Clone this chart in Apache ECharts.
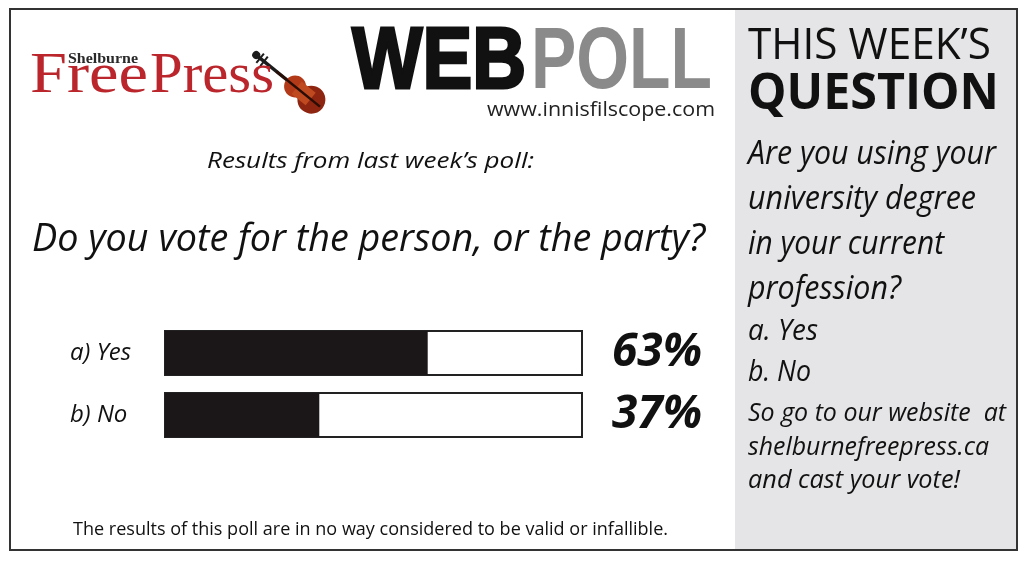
<!DOCTYPE html>
<html><head><meta charset="utf-8">
<script src="https://cdn.jsdelivr.net/npm/echarts@6/dist/echarts.min.js"></script>
<style>html,body{margin:0;padding:0;background:#fff}#c{width:1022px;height:562px}</style>
</head><body><div id="c"></div>
<script>
const categories = ['a) Yes', 'b) No'];
const values = [63, 37];
const pctLabels = values.map(v => v + '%');
const question = 'Do you vote for the person, or the party?';
const subtitle = 'Results from last week\u2019s poll:';
const footer = 'The results of this poll are in no way considered to be valid or infallible.';
const nextQuestion = ['Are you using your', 'university degree', 'in your current', 'profession?'];
const nextOptions = ['a. Yes', 'b. No'];
const callToAction = ['So go to our website  at', 'shelburnefreepress.ca', 'and cast your vote!'];

const SANS = '"Open Sans", "Noto Sans", sans-serif';
const SERIF = '"Liberation Serif", serif';
const HEAVY = '"Liberation Sans", sans-serif';
const cv = document.createElement('canvas').getContext('2d');
function txt(text, x, y, opt) {
  const style = opt.style || 'normal', weight = opt.weight || 'normal', family = opt.family || SANS;
  const font = style + ' ' + weight + ' ' + opt.size + 'px ' + family;
  cv.font = font;
  const w = cv.measureText(text).width;
  const sx = opt.width ? opt.width / w : 1;
  return { type: 'text', z: opt.z || 10, x: x, y: y, scaleX: sx, originX: 0, originY: 0,
    style: { x: 0, y: 0, text: text, font: font,
      fill: opt.fill || '#111', textAlign: opt.align || 'left', textVerticalAlign: 'middle',
      stroke: opt.stroke || null, lineWidth: opt.lw || 0 } };
}

const chart = echarts.init(document.getElementById('c'), null, { renderer: 'canvas' });
const graphics = [
  { type: 'rect', z: 0, shape: { x: 735, y: 9, width: 282, height: 541 }, style: { fill: '#e5e5e7' } },
  { type: 'rect', z: 1, shape: { x: 10, y: 9, width: 1007, height: 541 }, style: { fill: 'none', stroke: '#333', lineWidth: 2 } },
  // logo
  txt('Free', 30, 77, { family: SERIF, size: 58, width: 118, fill: '#bb262c' }),
  txt('Press', 150, 77, { family: SERIF, size: 58, width: 124, fill: '#bb262c' }),
  txt('Shelburne', 68, 59, { family: SERIF, weight: 'bold', size: 15, width: 70, fill: '#2a2a2a', z: 11 }),
  // violin
  { type: 'group', x: 292, y: 84, rotation: -0.68, z: 12, children: [
    { type: 'line', shape: { x1: -44, y1: 0, x2: 0, y2: 0 }, style: { stroke: '#1c1c1c', lineWidth: 3.5 } },
    { type: 'circle', shape: { cx: -46, cy: 0, r: 4 }, style: { fill: '#1c1c1c' } },
    { type: 'line', shape: { x1: -41, y1: -6, x2: -41, y2: 6 }, style: { stroke: '#1c1c1c', lineWidth: 2 } },
    { type: 'line', shape: { x1: -36, y1: -6, x2: -36, y2: 6 }, style: { stroke: '#1c1c1c', lineWidth: 2 } },
    { type: 'ellipse', shape: { cx: 4, cy: 0, rx: 11, ry: 11 }, style: { fill: '#b23a18' } },
    { type: 'ellipse', shape: { cx: 25, cy: 0, rx: 14, ry: 14 }, style: { fill: '#8e2510' } },
    { type: 'rect', shape: { x: 6, y: -8, width: 18, height: 16 }, style: { fill: '#c04a20' } },
    { type: 'line', shape: { x1: -20, y1: 0, x2: 36, y2: 0 }, style: { stroke: '#2a0d05', lineWidth: 2.5 } }
  ]},
  // WEBPOLL
  txt('WEB', 352, 64, { family: HEAVY, weight: 'bold', size: 88, width: 174, fill: '#111', stroke: '#111', lw: 3 }),
  txt('POLL', 531, 64, { family: HEAVY, weight: 'bold', size: 88, width: 181, fill: '#8a8a8a' }),
  txt('www.innisfilscope.com', 487, 110, { size: 20, width: 228, fill: '#222' }),
  txt(subtitle, 207, 162, { style: 'italic', size: 22, width: 327 }),
  txt(question, 32, 240, { style: 'italic', size: 39, width: 673 }),
  txt(footer, 73, 530, { size: 18, width: 595 }),
  // right panel
  txt('THIS WEEK\u2019S', 748, 46, { size: 44, width: 243 }),
  txt('QUESTION', 748, 95, { weight: 'bold', size: 50, width: 251 }),
];
const qWidths = [248, 228, 196, 153];
const qY = [155, 200, 245, 290];
nextQuestion.forEach((t, i) => graphics.push(txt(t, 748, qY[i], { style: 'italic', size: 33, width: qWidths[i] })));
const oWidths = [70, 63];
const oY = [331, 372];
nextOptions.forEach((t, i) => graphics.push(txt(t, 748, oY[i], { style: 'italic', size: 30, width: oWidths[i] })));
const cWidths = [258, 241, 212];
const cY = [414, 448, 481];
callToAction.forEach((t, i) => graphics.push(txt(t, 748, cY[i], { style: 'italic', size: 25, width: cWidths[i] })));

chart.setOption({
  animation: false,
  backgroundColor: '#fff',
  graphic: graphics,
  grid: { left: 165, right: 440, top: 322, height: 124 },
  xAxis: { type: 'value', min: 0, max: 100, show: false },
  yAxis: [
    { type: 'category', data: categories, inverse: true, axisLine: { show: false }, axisTick: { show: false },
      axisLabel: { align: 'left', margin: 95, color: '#111', fontSize: 24, fontStyle: 'italic', fontFamily: SANS } },
    { type: 'category', data: pctLabels, inverse: true, position: 'right', axisLine: { show: false }, axisTick: { show: false },
      axisLabel: { align: 'left', margin: 30, color: '#111', fontSize: 46, fontStyle: 'italic', fontWeight: 'bold', fontFamily: SANS } }
  ],
  series: [{
    type: 'bar', data: values, barWidth: 44, yAxisIndex: 0,
    itemStyle: { color: '#1b1718' },
    showBackground: true,
    backgroundStyle: { color: '#fff', borderColor: '#222', borderWidth: 2 }
  }]
});
</script></body></html>
